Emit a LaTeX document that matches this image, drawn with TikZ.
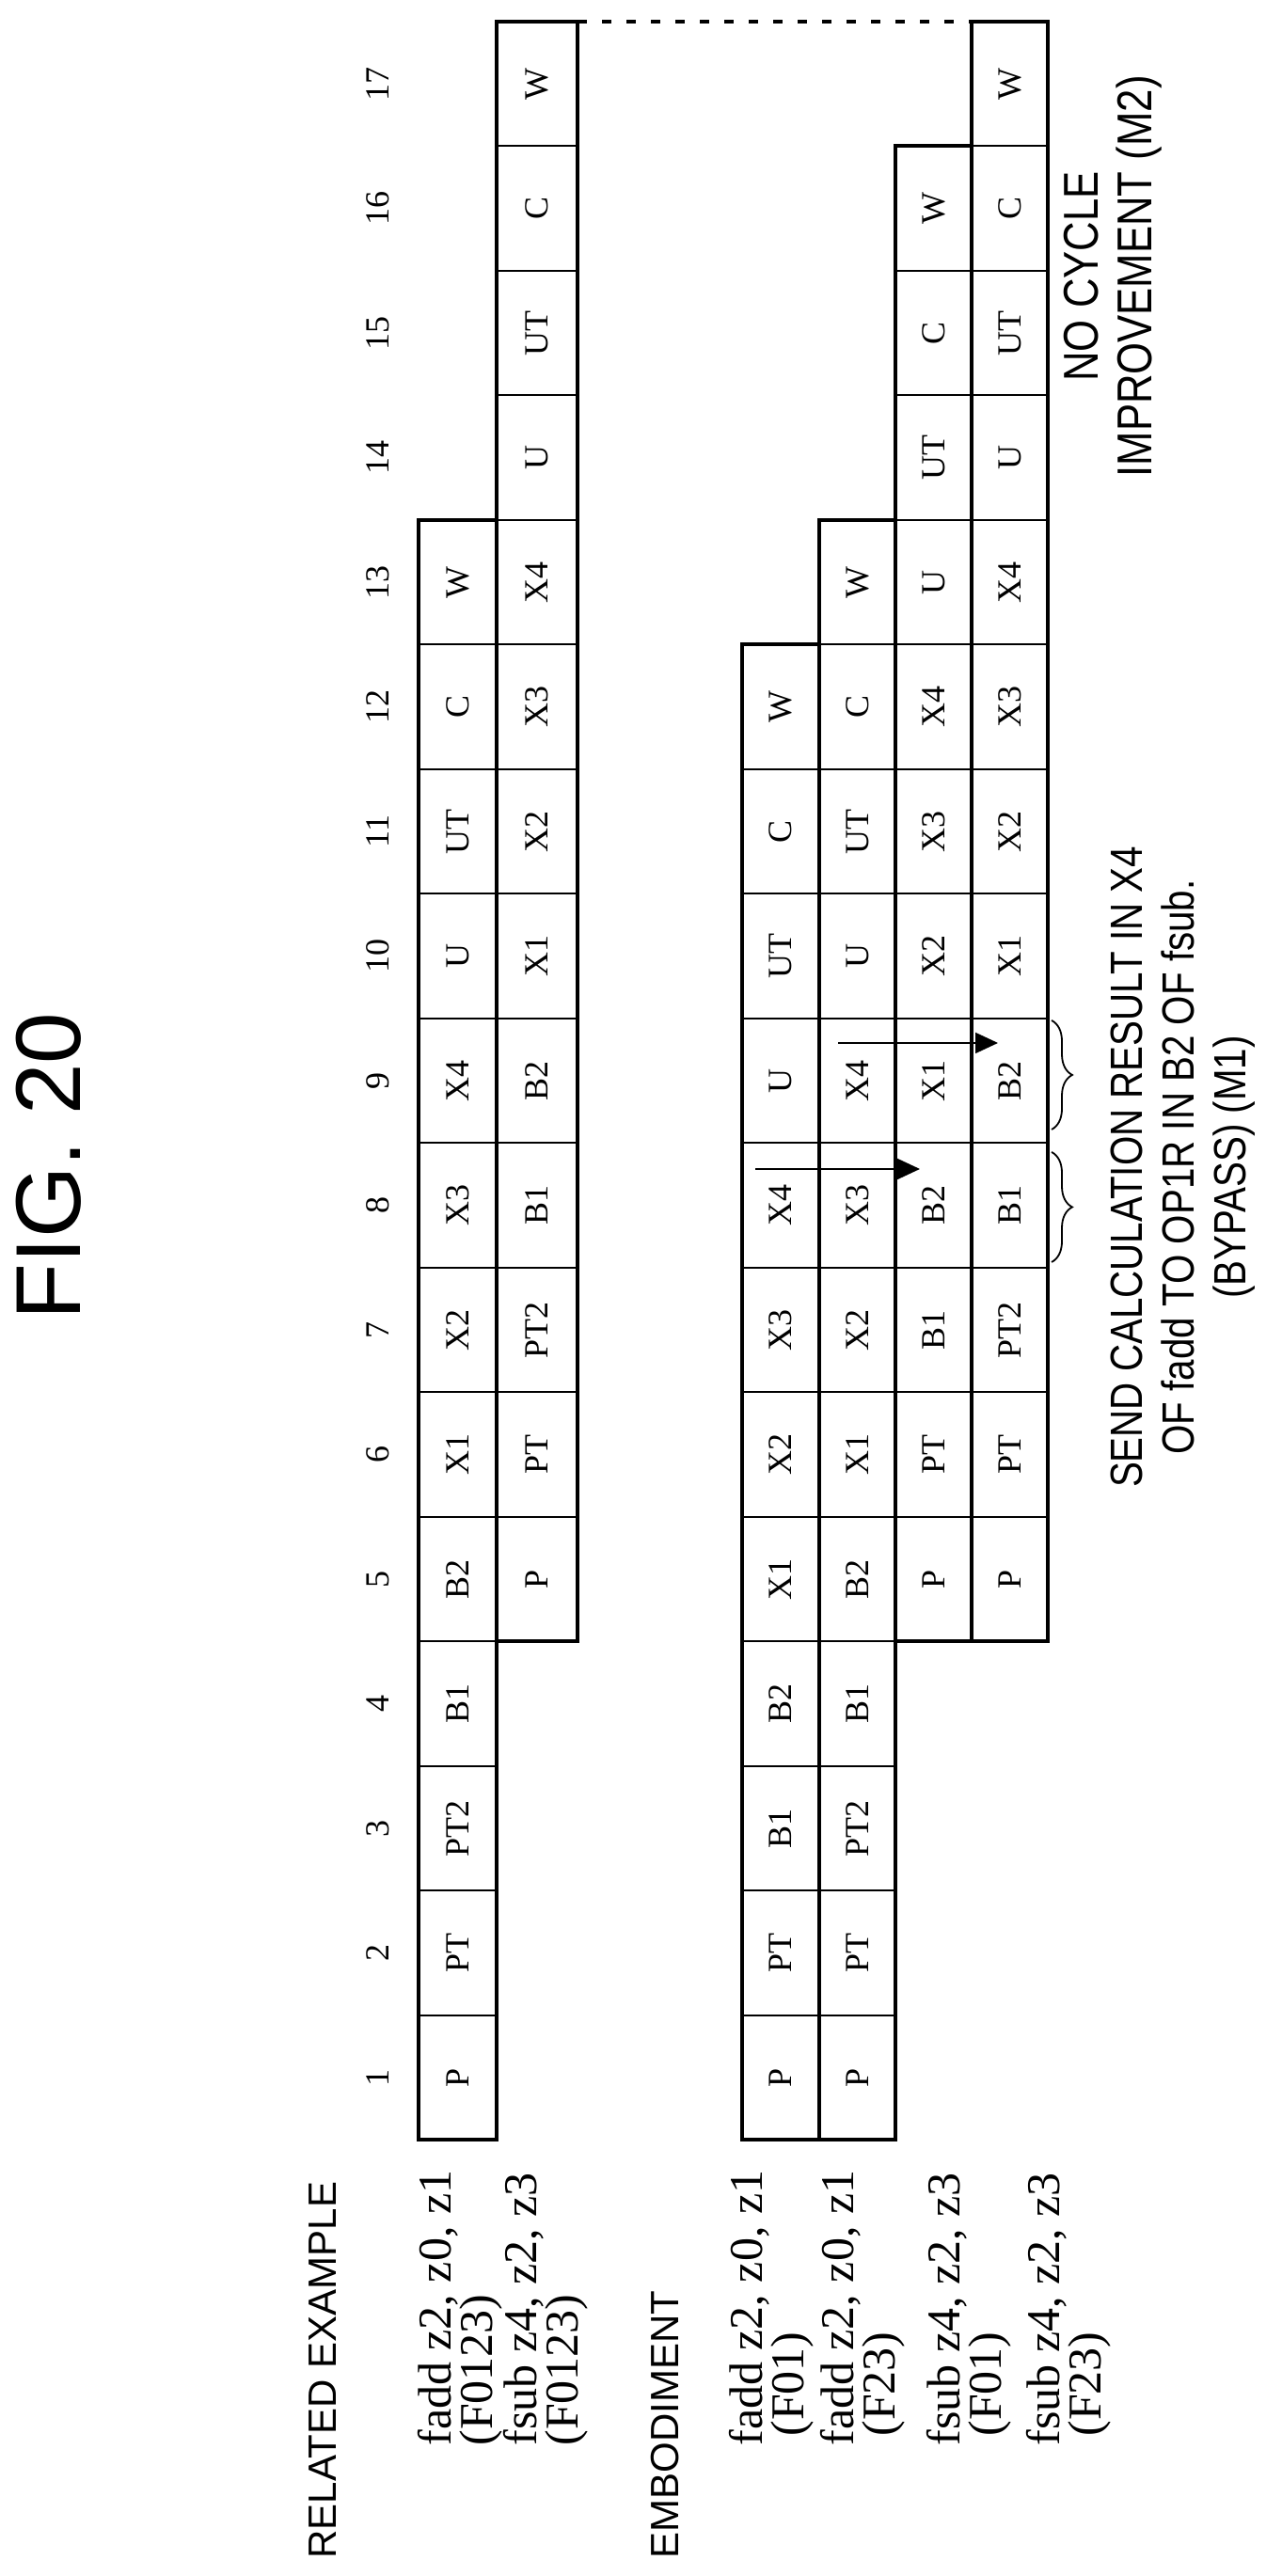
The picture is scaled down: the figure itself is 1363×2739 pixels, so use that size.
\documentclass[tikz,border=0pt]{standalone}
\usepackage{fontspec}
\setmainfont{Liberation Serif}
\setsansfont{Liberation Sans}
\newfontfamily\narrowsans[FakeStretch=0.84]{Liberation Sans}
\usetikzlibrary{arrows.meta,decorations.pathreplacing}
\tikzset{
  celltext/.style={font=\fontsize{18}{18}\selectfont, inner sep=0pt},
  thin cell/.style={line width=1pt},
  grp/.style={line width=2pt},
  collabel/.style={font=\fontsize{18}{18}\selectfont, inner sep=0pt},
  rowlabel/.style={font=\fontsize{25}{21}\selectfont, align=left, anchor=west, inner sep=0pt},
  heading/.style={font=\sffamily\fontsize{21}{21}\selectfont, anchor=west, inner sep=0pt},
  note/.style={font=\narrowsans\fontsize{24}{27.5}\selectfont, align=center, inner sep=0pt},
  bypass/.style={line width=0.9pt, -{Triangle[length=12pt,width=11pt]}},
  brc/.style={line width=0.9pt, decorate, decoration={brace, mirror, amplitude=11pt}},
}
\newcommand{\cellrow}[5]{%
  \foreach \t [count=\i from #2] in {#5} {
    \pgfmathsetmacro\ua{463.5+(\i-1)*132.5}
    \pgfmathsetmacro\ub{\ua+132.5}
    \pgfmathsetmacro\uc{\ua+66.25}
    \draw[thin cell] (\ua,-#3) rectangle (\ub,-#4);
    \node[celltext] (#1c\i) at (\uc,{-(#3+#4)/2}) {\t};
  }
}
\newcommand{\grpbox}[4]{%
  \pgfmathsetmacro\ua{463.5+(#1-1)*132.5}
  \pgfmathsetmacro\ub{463.5+#2*132.5}
  \draw[grp] (\ua,-#3) rectangle (\ub,-#4);
}
\begin{document}
\begin{tikzpicture}[x=0.5pt,y=0.5pt]
\useasboundingbox (0,0) rectangle (1363,2739);
\begin{scope}[rotate=90, transform shape]
% title
\node[font=\sffamily\fontsize{49}{49}\selectfont, inner sep=0pt] (title) at (1499,-52) {FIG.\ 20};
% column numbers
\foreach \k in {1,...,17} {
  \pgfmathsetmacro\uc{463.5+(\k-1)*132.5+66.25}
  \node[collabel] (col\k) at (\uc,-402) {\k};
}
% headings
\node[heading] (rel) at (18,-343) {RELATED EXAMPLE};
\node[heading] (emb) at (18,-707) {EMBODIMENT};
% row labels
\node[rowlabel] (l1) at (138,-489) {fadd z2, z0, z1\\(F0123)};
\node[rowlabel] (l2) at (138,-580) {fsub z4, z2, z3\\(F0123)};
\node[rowlabel] (l3) at (138,-820) {fadd z2, z0, z1\\\hspace{5pt}(F01)};
\node[rowlabel] (l4) at (138,-917) {fadd z2, z0, z1\\\hspace{5pt}(F23)};
\node[rowlabel] (l5) at (138,-1030) {fsub z4, z2, z3\\\hspace{5pt}(F01)};
\node[rowlabel] (l6) at (138,-1136) {fsub z4, z2, z3\\\hspace{5pt}(F23)};
% related example rows
\cellrow{ra}{1}{445}{528}{P,PT,PT2,B1,B2,X1,X2,X3,X4,U,UT,C,W}
\cellrow{rb}{5}{528}{614}{P,PT,PT2,B1,B2,X1,X2,X3,X4,U,UT,C,W}
\grpbox{1}{13}{445}{528}
\grpbox{5}{17}{528}{614}
% embodiment rows
\cellrow{ea}{1}{789}{871}{P,PT,B1,B2,X1,X2,X3,X4,U,UT,C,W}
\cellrow{eb}{1}{871}{952}{P,PT,PT2,B1,B2,X1,X2,X3,X4,U,UT,C,W}
\cellrow{ec}{5}{952}{1033}{P,PT,B1,B2,X1,X2,X3,X4,U,UT,C,W}
\cellrow{ed}{5}{1033}{1114}{P,PT,PT2,B1,B2,X1,X2,X3,X4,U,UT,C,W}
\grpbox{1}{12}{789}{871}
\grpbox{1}{13}{871}{952}
\grpbox{5}{16}{952}{1033}
\grpbox{5}{17}{1033}{1114}
% dashed connection
\coordinate (d1) at (2716,-614);
\coordinate (d2) at (2716,-1033);
\draw[line width=2pt, dash pattern=on 5pt off 8pt] (d1) -- (d2);
% bypass arrows
\coordinate (a1s) at (1496,-803);
\coordinate (a1e) at (1496,-978);
\coordinate (a2s) at (1630,-891);
\coordinate (a2e) at (1630,-1061);
\draw[bypass] (a1s) -- (a1e);
\draw[bypass] (a2s) -- (a2e);
% braces
\coordinate (b1a) at (1397,-1118);
\coordinate (b1b) at (1514,-1118);
\coordinate (b2a) at (1538,-1118);
\coordinate (b2b) at (1654,-1118);
\draw[brc] (b1a) -- (b1b);
\draw[brc] (b2a) -- (b2b);
% notes
\node[note] (send) at (1498,-1258) {SEND CALCULATION RESULT IN X4\\OF fadd TO OP1R IN B2 OF fsub.\\(BYPASS) (M1)};
\node[note, font=\narrowsans\fontsize{26}{28.5}\selectfont] (nocyc) at (2445,-1183) {NO CYCLE\\IMPROVEMENT (M2)};
\end{scope}
\end{tikzpicture}
\end{document}
